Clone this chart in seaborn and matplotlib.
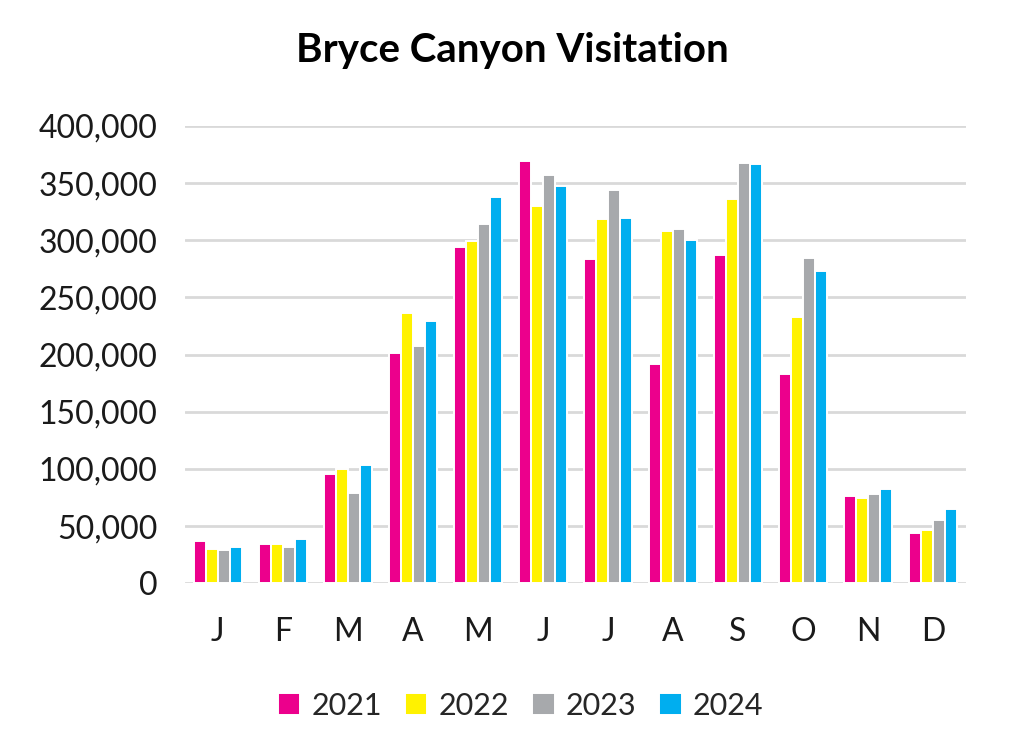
import numpy as np
import pandas as pd
import seaborn as sns
import matplotlib.pyplot as plt
from matplotlib.ticker import FuncFormatter

months = ["J", "F", "M", "A", "M", "J", "J", "A", "S", "O", "N", "D"]
years = ["2021", "2022", "2023", "2024"]

v2021 = [37000, 34700, 96000, 201700, 294500, 368900, 284000, 191500, 287000, 183300, 76800, 44400]
v2022 = [30400, 34700, 100400, 236000, 299700, 329600, 318700, 308200, 336500, 233200, 74700, 46400]
v2023 = [28900, 31500, 79400, 207800, 314600, 357000, 343900, 310000, 367500, 284600, 78000, 55200]
v2024 = [31800, 39000, 103300, 229400, 337400, 347600, 319300, 300300, 366600, 273000, 82400, 65100]

colors = ["#EC008C", "#FFF200", "#A7A9AC", "#00AEEF"]

# long table, month index keeps duplicate letters apart
rows = []
for yr, vals in zip(years, [v2021, v2022, v2023, v2024]):
    for i, v in enumerate(vals):
        rows.append({"idx": i, "year": yr, "visits": v})
df = pd.DataFrame(rows)

sns.set_style("white")
plt.rcParams["font.family"] = ["Lato", "DejaVu Sans"]

fig = plt.figure(figsize=(10.24, 7.45), dpi=100)
ax = fig.add_axes([0.181, 0.217, 0.762, 0.614])

sns.barplot(data=df, x="idx", y="visits", hue="year", palette=colors,
            width=0.74, edgecolor="white", linewidth=1.4, saturation=1, ax=ax)

ax.set_ylim(0, 400000)
ax.set_yticks(np.arange(0, 400001, 50000))
ax.yaxis.set_major_formatter(FuncFormatter(lambda v, p: f"{int(v):,}"))
ax.set_xticks(range(12))
ax.set_xticklabels(months)
ax.grid(axis="y", color="#D9D9D9", linewidth=2)
ax.set_axisbelow(True)
for s in ax.spines.values():
    s.set_visible(False)
ax.tick_params(axis="both", length=0, labelsize=23, colors="#1a1a1a")
ax.tick_params(axis="y", pad=20)
ax.tick_params(axis="x", pad=24)
ax.set_xlabel("")
ax.set_ylabel("")

fig.suptitle("Bryce Canyon Visitation", x=0.5, y=0.957, fontsize=29,
             fontweight="bold", color="black")

handles, labels = ax.get_legend_handles_labels()
ax.legend_.remove()
fig.legend(handles, labels, loc="center", bbox_to_anchor=(0.508, 0.053), ncol=4,
           frameon=False, fontsize=22, handlelength=0.75, handleheight=0.75,
           handletextpad=0.35, columnspacing=0.75)

fig.savefig("out.png", dpi=100)
